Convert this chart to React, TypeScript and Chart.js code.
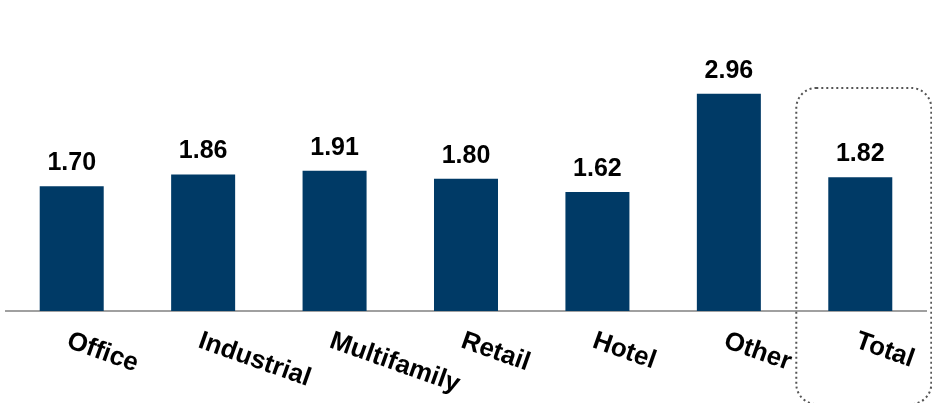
import React, { useEffect, useRef } from "react";
import { Chart, registerables } from "chart.js";

Chart.register(...registerables);

const categories = ["Office", "Industrial", "Multifamily", "Retail", "Hotel", "Other", "Total"];
const values = [1.7, 1.86, 1.91, 1.8, 1.62, 2.96, 1.82];
const valueLabels = ["1.70", "1.86", "1.91", "1.80", "1.62", "2.96", "1.82"];
const highlightCategory = "Total";

const FONT = '"Liberation Sans", Arial, sans-serif';
const BAR_COLOR = "#003A66";

const labelsPlugin = {
  id: "customLabels",
  afterDatasetsDraw(chart: any) {
    const ctx = chart.ctx;
    const meta = chart.getDatasetMeta(0);
    const xScale = chart.scales.x;
    ctx.save();
    ctx.fillStyle = "#000";
    ctx.font = `bold 25px ${FONT}`;
    ctx.textAlign = "center";
    ctx.textBaseline = "alphabetic";
    meta.data.forEach((bar: any, i: number) => {
      ctx.fillText(valueLabels[i], bar.x, bar.y - 16);
    });
    // rotated category labels
    ctx.font = `bold 26px ${FONT}`;
    const baseY = chart.chartArea.bottom + 17;
    categories.forEach((c, i) => {
      const x = xScale.getPixelForValue(i) + 0.5;
      ctx.save();
      ctx.translate(x, baseY);
      ctx.rotate((19.5 * Math.PI) / 180);
      ctx.textAlign = "left";
      ctx.textBaseline = "top";
      ctx.fillText(c, 0, 0);
      ctx.restore();
    });
    // dotted rounded box around highlight
    const hi = categories.indexOf(highlightCategory);
    const cx = xScale.getPixelForValue(hi);
    const left = cx - 64;
    const right = cx + 71;
    const top = chart.chartArea.top + 34;
    const bottom = chart.height + 1;
    const r = 20;
    ctx.strokeStyle = "#555";
    ctx.lineWidth = 2;
    ctx.setLineDash([2, 3]);
    ctx.beginPath();
    ctx.moveTo(left + r, top);
    ctx.lineTo(right - r, top);
    ctx.arcTo(right, top, right, top + r, r);
    ctx.lineTo(right, bottom - r);
    ctx.arcTo(right, bottom, right - r, bottom, r);
    ctx.lineTo(left + r, bottom);
    ctx.arcTo(left, bottom, left, bottom - r, r);
    ctx.lineTo(left, top + r);
    ctx.arcTo(left, top, left + r, top, r);
    ctx.closePath();
    ctx.stroke();
    ctx.restore();
  },
};

export default function App() {
  const ref = useRef<HTMLCanvasElement>(null);
  useEffect(() => {
    if (!ref.current) return;
    const chart = new Chart(ref.current, {
      type: "bar",
      data: {
        labels: categories,
        datasets: [
          {
            data: values,
            backgroundColor: BAR_COLOR,
            barPercentage: 0.487,
            categoryPercentage: 1,
          },
        ],
      },
      options: {
        responsive: false,
        animation: false,
        layout: { padding: { left: 6, right: 6, top: 54, bottom: 0 } },
        plugins: { legend: { display: false }, tooltip: { enabled: false } },
        scales: {
          x: {
            grid: { display: false, drawTicks: false },
            ticks: { display: false },
            border: { display: true, color: "#a0a0a0", width: 2 },
            afterFit(scale: any) {
              scale.height = 92;
            },
          },
          y: {
            display: false,
            min: 0,
            max: 3.5,
          },
        },
      },
      plugins: [labelsPlugin],
    });
    return () => chart.destroy();
  }, []);
  return (
    <div style={{ position: "fixed", left: 0, top: 0, width: 932, height: 403, background: "#fff" }}>
      <canvas ref={ref} width={932} height={403} style={{ width: 932, height: 403, display: "block" }} />
    </div>
  );
}
